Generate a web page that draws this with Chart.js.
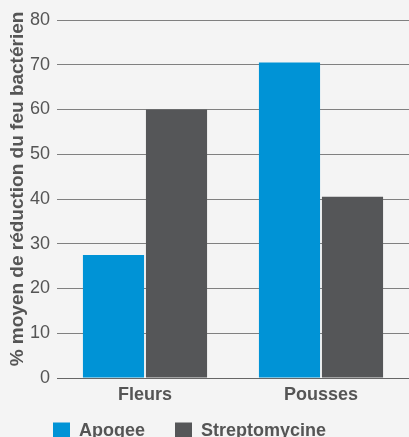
<!DOCTYPE html>
<html>
<head>
<meta charset="utf-8">
<script src="https://cdn.jsdelivr.net/npm/chart.js@4/dist/chart.umd.min.js"></script>
<style>
html,body{margin:0;padding:0;background:#f4f4f4;overflow:hidden;}
#wrap{width:409px;height:437px;position:relative;}
</style>
</head>
<body>
<div id="wrap"><canvas id="c"></canvas></div>
<script>
const categories = ["Fleurs", "Pousses"];
const apogee = [27.5, 70.5];
const streptomycine = [60, 40.5];
const seriesNames = ["Apogee", "Streptomycine"];
const yTicks = [0, 10, 20, 30, 40, 50, 60, 70, 80];

Chart.defaults.font.family = "'Liberation Sans', Arial, Helvetica, sans-serif";
Chart.defaults.color = "#555";

// Layout tweaks: thin legend strip (row is cropped at the bottom like the original),
// and a slight upward nudge of the y-axis title.
const layoutTweaks = {
  id: 'layoutTweaks',
  beforeInit(chart) {
    const lg = chart.legend;
    if (!lg) return;
    const fit = lg.fit.bind(lg);
    lg.fit = function () { fit(); if (this.isHorizontal()) this.height = 32; };
  },
  afterLayout(chart) {
    const lg = chart.legend;
    if (lg) {
      const pad = lg.options.labels.padding;
      const w = lg.right - lg.left;
      lg.left = 53 - pad;
      lg.right = lg.left + w;
      lg.top = 422 - pad;
    }
    const ys = chart.scales.y;
    if (ys && !ys._titleWrapped) {
      const orig = ys.drawTitle.bind(ys);
      ys.drawTitle = function () {
        const ctx = this.ctx;
        ctx.save();
        ctx.translate(0, -10);
        orig();
        ctx.restore();
      };
      ys._titleWrapped = true;
    }
  }
};

new Chart(document.getElementById('c'), {
  type: 'bar',
  data: {
    labels: categories,
    datasets: [
      { label: seriesNames[0], data: apogee, backgroundColor: '#0093d6', categoryPercentage: 0.716, barPercentage: 0.97 },
      { label: seriesNames[1], data: streptomycine, backgroundColor: '#555658', categoryPercentage: 0.716, barPercentage: 0.97 }
    ]
  },
  plugins: [layoutTweaks],
  options: {
    responsive: true,
    maintainAspectRatio: false,
    animation: false,
    layout: { padding: { left: 4, right: 0, top: 20, bottom: 0 } },
    plugins: {
      legend: {
        position: 'bottom',
        align: 'start',
        labels: {
          boxWidth: 17, boxHeight: 17, padding: 30,
          font: { size: 18, weight: 'bold' }, color: '#555'
        }
      },
      tooltip: { enabled: false }
    },
    scales: {
      x: {
        afterFit: (scale) => { scale.height = 27; },
        grid: { display: false, drawTicks: false },
        border: { display: true, color: '#666', width: 1 },
        ticks: { font: { size: 18, weight: 'bold' }, color: '#555', padding: 6 }
      },
      y: {
        min: 0, max: 80,
        afterBuildTicks: (axis) => { axis.ticks = yTicks.map(v => ({ value: v })); },
        afterFit: (scale) => { scale.width = 53; },
        grid: { color: '#808080', lineWidth: 1, drawTicks: false },
        border: { display: false },
        ticks: { font: { size: 18 }, color: '#555', padding: 7 },
        title: { display: true, text: '% moyen de réduction du feu bactérien', font: { size: 19, weight: 'bold' }, color: '#555', padding: { top: 2, bottom: 2 } }
      }
    }
  }
});
</script>
</body>
</html>
